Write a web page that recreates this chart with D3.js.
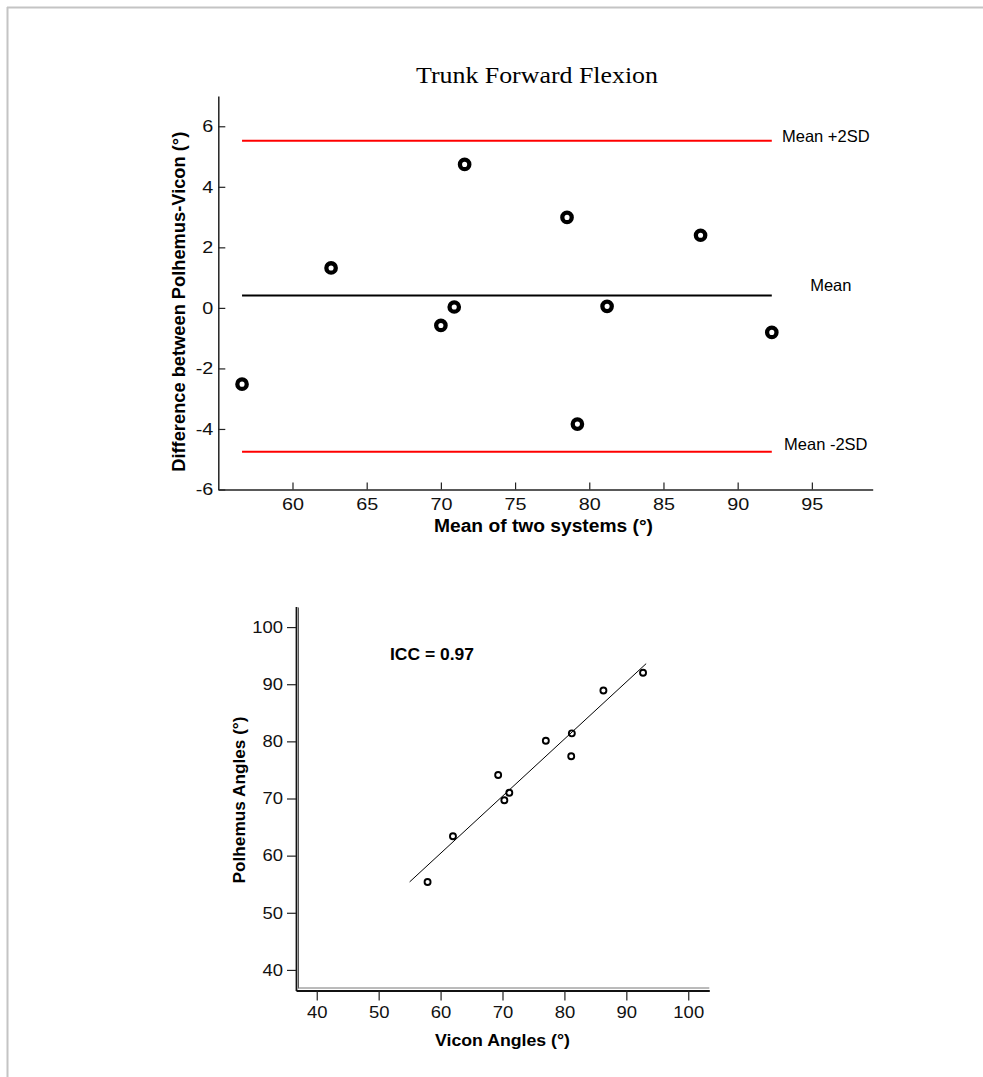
<!DOCTYPE html>
<html>
<head>
<meta charset="utf-8">
<script src="https://cdn.jsdelivr.net/npm/d3@7"></script>
<style>
  html, body { margin: 0; padding: 0; background: #fff; }
  svg { display: block; }
  text { font-family: "Liberation Sans", Arial, sans-serif; fill: #111; }
</style>
</head>
<body>
<svg id="fig" width="983" height="1077"></svg>
<script>
// ---- Bland–Altman: mean of two systems vs. Polhemus − Vicon difference (degrees)
const baMean = [56.6, 62.6, 70.0, 70.9, 71.6, 78.5, 79.2, 81.2, 87.5, 92.3];
const baDiff = [-2.52, 1.32, -0.58, 0.03, 4.74, 2.99, -3.84, 0.05, 2.40, -0.81];
const baLimitNames = ["Mean +2SD", "Mean", "Mean -2SD"];
const baLimitValues = [5.52, 0.41, -4.75];
const baXTicks = [60, 65, 70, 75, 80, 85, 90, 95];
const baYTicks = [-6, -4, -2, 0, 2, 4, 6];

// ---- Agreement scatter: Vicon vs. Polhemus angles (degrees)
const viconAngles = [57.9, 62.0, 69.3, 70.3, 71.1, 77.0, 81.2, 81.1, 86.3, 92.7];
const polhemusAngles = [55.4, 63.4, 74.1, 69.7, 71.0, 80.1, 81.4, 77.4, 88.9, 92.0];
const fitX = [55.0, 93.2];
const fitY = [55.4, 93.6];
const iccLabel = "ICC = 0.97";
const agreeTicks = [40, 50, 60, 70, 80, 90, 100];

const svg = d3.select("#fig");

// page frame (top and left rules)
svg.append("line").attr("x1", 7).attr("y1", 7.5).attr("x2", 983).attr("y2", 7.5)
  .attr("stroke", "#c4c4c4").attr("stroke-width", 2);
svg.append("line").attr("x1", 7.5).attr("y1", 7).attr("x2", 7.5).attr("y2", 1077)
  .attr("stroke", "#c4c4c4").attr("stroke-width", 2);

// widen tick labels horizontally
function stretchTicks(g, sx) {
  g.selectAll(".tick text").each(function () {
    const t = d3.select(this);
    const x = +t.attr("x") || 0;
    t.attr("x", x / sx).attr("transform", `scale(${sx},1)`);
  });
}
const dash = d => (d < 0 ? "-" + Math.abs(d) : String(d));

// ================= Bland–Altman plot =================
const ba = { left: 218.3, right: 872.7, top: 96, bottom: 489.5 };
const x1 = d3.scaleLinear().domain([55, 99.1]).range([ba.left, ba.right]);
const y1 = d3.scaleLinear().domain([-6, 7]).range([ba.bottom, ba.top]);

svg.append("text")
  .attr("x", 537).attr("y", 83).attr("text-anchor", "middle")
  .attr("textLength", 242).attr("lengthAdjust", "spacingAndGlyphs")
  .style("font-family", '"Liberation Serif", "Times New Roman", serif')
  .style("font-size", "23px").style("fill", "#000")
  .text("Trunk Forward Flexion");

const gx1 = svg.append("g").attr("transform", `translate(0,${ba.bottom})`)
  .call(d3.axisBottom(x1).tickValues(baXTicks).tickFormat(dash)
    .tickSizeInner(-7).tickSizeOuter(0).tickPadding(9));
const gy1 = svg.append("g").attr("transform", `translate(${ba.left},0)`)
  .call(d3.axisLeft(y1).tickValues(baYTicks).tickFormat(dash)
    .tickSizeInner(-7).tickSizeOuter(0).tickPadding(5));
[gx1, gy1].forEach(g => {
  g.select(".domain").attr("stroke", "#222").attr("stroke-width", 1.5);
  g.selectAll(".tick line").attr("stroke", "#222").attr("stroke-width", 1.2);
  g.selectAll(".tick text").style("font-size", "16.5px").style("fill", "#111")
    .style("font-family", '"Liberation Sans", Arial, sans-serif');
  stretchTicks(g, 1.2);
});

// limits of agreement and mean difference
const xLo = d3.min(baMean), xHi = d3.max(baMean);
const limits = baLimitNames.map((name, i) => ({ name, value: baLimitValues[i] }));
svg.append("g").selectAll("line").data(limits).join("line")
  .attr("x1", x1(xLo)).attr("x2", x1(xHi))
  .attr("y1", d => y1(d.value)).attr("y2", d => y1(d.value))
  .attr("stroke", d => (d.name === "Mean" ? "#000" : "#ff0000"))
  .attr("stroke-width", 2);
svg.append("g").selectAll("text").data(limits).join("text")
  .attr("x", d => x1(xHi) + (d.name === "Mean" ? 59 : 54))
  .attr("y", d => y1(d.value) + (d.name === "Mean" ? -4 : d.value > 0 ? 1.5 : -1.5))
  .attr("text-anchor", "middle")
  .style("font-size", "16.5px").style("fill", "#000")
  .text(d => d.name);

// difference points
svg.append("g").selectAll("circle").data(baMean.map((m, i) => [m, baDiff[i]])).join("circle")
  .attr("cx", d => x1(d[0])).attr("cy", d => y1(d[1]))
  .attr("r", 4.7).attr("fill", "#fff").attr("stroke", "#000").attr("stroke-width", 4.3);

// axis titles
svg.append("text")
  .attr("transform", `translate(185,${(ba.top + ba.bottom) / 2 + 9}) rotate(-90)`)
  .attr("text-anchor", "middle")
  .attr("textLength", 340).attr("lengthAdjust", "spacingAndGlyphs")
  .style("font-size", "18px").style("font-weight", "bold").style("fill", "#000")
  .text("Difference between Polhemus-Vicon (°)");
svg.append("text")
  .attr("x", 543.5).attr("y", 532).attr("text-anchor", "middle")
  .attr("textLength", 219).attr("lengthAdjust", "spacingAndGlyphs")
  .style("font-size", "18px").style("font-weight", "bold").style("fill", "#000")
  .text("Mean of two systems (°)");

// ================= Agreement scatter =================
const ag = { left: 296, right: 709.3, top: 606.5, bottom: 990.5 };
const x2 = d3.scaleLinear().domain([36.65, 103.4]).range([ag.left, ag.right]);
const y2 = d3.scaleLinear().domain([36.4, 103.6]).range([ag.bottom, ag.top]);

const gx2 = svg.append("g").attr("transform", `translate(0,${ag.bottom})`)
  .call(d3.axisBottom(x2).tickValues(agreeTicks).tickSizeInner(10).tickSizeOuter(0).tickPadding(6));
const gy2 = svg.append("g").attr("transform", `translate(${ag.left},0)`)
  .call(d3.axisLeft(y2).tickValues(agreeTicks).tickSizeInner(9).tickSizeOuter(0).tickPadding(4));
[gx2, gy2].forEach(g => {
  g.select(".domain").attr("stroke", "#111").attr("stroke-width", 1.8);
  g.selectAll(".tick line").attr("stroke", "#222").attr("stroke-width", 1.2);
  g.selectAll(".tick text").style("font-size", "16.5px").style("fill", "#111")
    .style("font-family", '"Liberation Sans", Arial, sans-serif');
  stretchTicks(g, 1.12);
});
// inner rule of the double frame
svg.append("line").attr("x1", ag.left + 2.5).attr("x2", ag.left + 2.5)
  .attr("y1", ag.top + 1).attr("y2", ag.bottom - 2)
  .attr("stroke", "#555").attr("stroke-width", 1);
svg.append("line").attr("x1", ag.left + 2.5).attr("x2", ag.right)
  .attr("y1", ag.bottom - 2.5).attr("y2", ag.bottom - 2.5)
  .attr("stroke", "#777").attr("stroke-width", 1);

// fitted line
svg.append("path")
  .datum(fitX.map((v, i) => [v, fitY[i]]))
  .attr("d", d3.line().x(d => x2(d[0])).y(d => y2(d[1])))
  .attr("fill", "none").attr("stroke", "#000").attr("stroke-width", 1);

// paired observations
svg.append("g").selectAll("circle").data(viconAngles.map((v, i) => [v, polhemusAngles[i]])).join("circle")
  .attr("cx", d => x2(d[0])).attr("cy", d => y2(d[1]))
  .attr("r", 3).attr("fill", "none").attr("stroke", "#000").attr("stroke-width", 1.9);

svg.append("text")
  .attr("x", 390).attr("y", 660)
  .attr("textLength", 84).attr("lengthAdjust", "spacingAndGlyphs")
  .style("font-size", "17px").style("font-weight", "bold").style("fill", "#000")
  .text(iccLabel);

svg.append("text")
  .attr("transform", `translate(245,800) rotate(-90)`)
  .attr("text-anchor", "middle")
  .attr("textLength", 167).attr("lengthAdjust", "spacingAndGlyphs")
  .style("font-size", "17px").style("font-weight", "bold").style("fill", "#000")
  .text("Polhemus Angles (°)");
svg.append("text")
  .attr("x", 502.5).attr("y", 1046).attr("text-anchor", "middle")
  .attr("textLength", 135).attr("lengthAdjust", "spacingAndGlyphs")
  .style("font-size", "17px").style("font-weight", "bold").style("fill", "#000")
  .text("Vicon Angles (°)");
</script>
</body>
</html>
